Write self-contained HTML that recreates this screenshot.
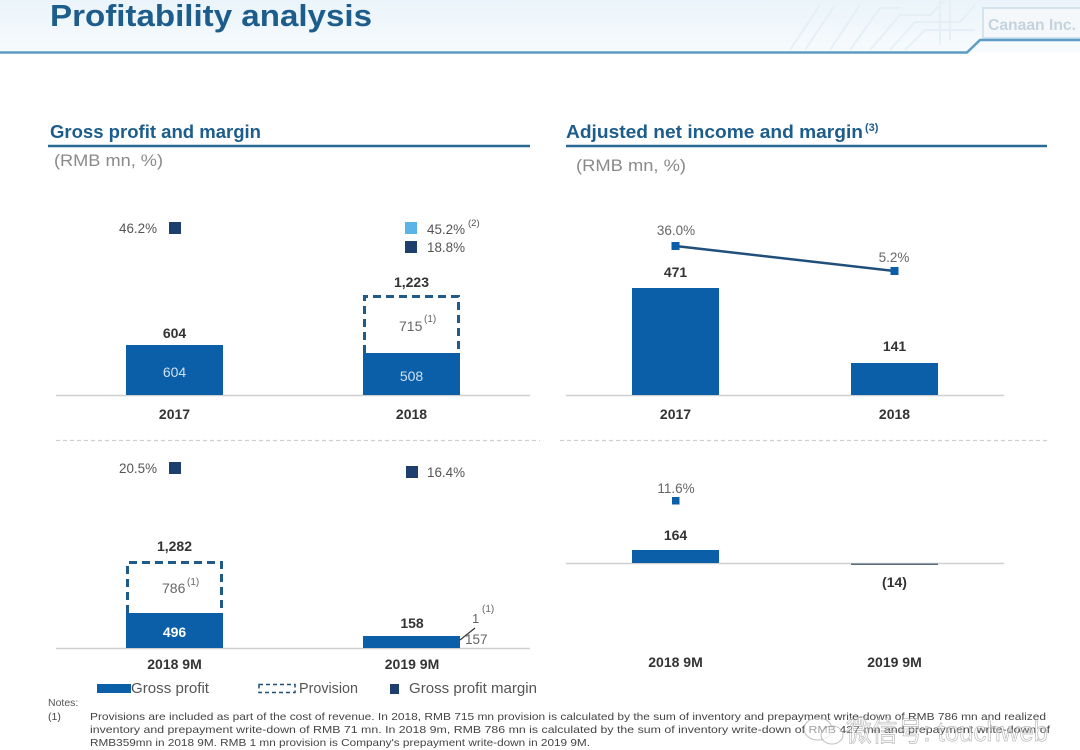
<!DOCTYPE html>
<html>
<head>
<meta charset="utf-8">
<style>
  html,body{margin:0;padding:0;background:#fff;}
  svg{display:block;}
  text{font-family:"Liberation Sans","Noto Sans CJK SC",sans-serif;}
</style>
</head>
<body>
<svg width="1080" height="750" viewBox="0 0 1080 750" xmlns="http://www.w3.org/2000/svg">
  <defs>
    <linearGradient id="hdr" x1="0" y1="0" x2="0" y2="1">
      <stop offset="0" stop-color="#eaf4fa"/>
      <stop offset="1" stop-color="#f7fbfd"/>
    </linearGradient>
  </defs>
  <!-- header -->
  <rect x="0" y="0" width="1080" height="52" fill="url(#hdr)"/>
  <g stroke="#e3eef6" stroke-width="2" fill="none" opacity="0.8">
    <path d="M790 50 L820 5"/><path d="M805 50 L835 5"/><path d="M830 50 L860 5"/>
    <path d="M850 50 L880 8 L900 8"/><path d="M870 50 L900 15 L930 15 L945 0"/>
    <path d="M890 50 L915 22 L960 22 L975 5"/><path d="M905 50 L925 30 L975 30"/>
    <path d="M940 0 L940 45"/><path d="M950 0 L950 40"/>
  </g>
  <rect x="983" y="8" width="100" height="30" fill="#f4f8fb" stroke="#d3e4ef" stroke-width="2"/>
  <text x="988" y="30" font-size="16" font-weight="bold" fill="#c5d3de" textLength="88" lengthAdjust="spacingAndGlyphs">Canaan Inc.</text>
  <path d="M0 52.5 L967 52.5 L980 40 L1080 40" fill="none" stroke="#5d9cc6" stroke-width="2.5"/>
  <text x="50" y="26" font-size="31" font-weight="bold" fill="#1d5d8c" textLength="322" lengthAdjust="spacingAndGlyphs">Profitability analysis</text>

  <!-- section headings -->
  <text x="50" y="138" font-size="18" font-weight="bold" fill="#1d5d8c" textLength="211" lengthAdjust="spacingAndGlyphs">Gross profit and margin</text>
  <line x1="48" y1="146" x2="530" y2="146" stroke="#2a6a94" stroke-width="2.5"/>
  <text x="566" y="138" font-size="18" font-weight="bold" fill="#1d5d8c" textLength="297" lengthAdjust="spacingAndGlyphs">Adjusted net income and margin</text>
  <text x="865" y="131" font-size="11" font-weight="bold" fill="#1d5d8c">(3)</text>
  <line x1="566" y1="146" x2="1047" y2="146" stroke="#2a6a94" stroke-width="2.5"/>

  <text x="54" y="166" font-size="17" fill="#8a8a8a" textLength="109" lengthAdjust="spacingAndGlyphs">(RMB mn, %)</text>
  <text x="576" y="171" font-size="17" fill="#8a8a8a" textLength="110" lengthAdjust="spacingAndGlyphs">(RMB mn, %)</text>

  <!-- ========== Top-left: Gross profit 2017/2018 ========== -->
  <line x1="56" y1="395.5" x2="530" y2="395.5" stroke="#cfcfcf" stroke-width="1.5"/>
  <rect x="126" y="345" width="97" height="50" fill="#0b5ea8"/>
  <rect x="363" y="353" width="97" height="42" fill="#0b5ea8"/>
  <path d="M364.5 353 L364.5 296.5 L458.5 296.5 L458.5 353" fill="none" stroke="#1f5a88" stroke-width="3" stroke-dasharray="8,5"/>
  <text x="174.5" y="338" font-size="14" font-weight="bold" fill="#333" text-anchor="middle">604</text>
  <text x="174.5" y="377" font-size="14" fill="#cfe2f3" text-anchor="middle">604</text>
  <text x="411.5" y="287" font-size="14" font-weight="bold" fill="#333" text-anchor="middle">1,223</text>
  <text x="399" y="331" font-size="14" fill="#666">715</text>
  <text x="424" y="322" font-size="10" fill="#666">(1)</text>
  <text x="411.5" y="381" font-size="14" fill="#cfe2f3" text-anchor="middle">508</text>
  <text x="174.5" y="419" font-size="14" font-weight="bold" fill="#333" text-anchor="middle">2017</text>
  <text x="411.5" y="419" font-size="14" font-weight="bold" fill="#333" text-anchor="middle">2018</text>
  <!-- margins -->
  <text x="119" y="233" font-size="13.5" fill="#555" textLength="38" lengthAdjust="spacingAndGlyphs">46.2%</text>
  <rect x="169" y="222" width="12" height="12" fill="#1e3e6e"/>
  <rect x="405" y="222" width="12" height="12" fill="#5ab4e6"/>
  <text x="427" y="234" font-size="13.5" fill="#555" textLength="38" lengthAdjust="spacingAndGlyphs">45.2%</text>
  <text x="468" y="226" font-size="9.5" fill="#555">(2)</text>
  <rect x="405" y="241" width="12" height="12" fill="#1e3e6e"/>
  <text x="427" y="252" font-size="13.5" fill="#555" textLength="38" lengthAdjust="spacingAndGlyphs">18.8%</text>

  <!-- separators -->
  <line x1="56" y1="440.5" x2="540" y2="440.5" stroke="#cfcfcf" stroke-width="1.2" stroke-dasharray="4,3"/>
  <line x1="560" y1="440.5" x2="1050" y2="440.5" stroke="#cfcfcf" stroke-width="1.2" stroke-dasharray="4,3"/>

  <!-- ========== Bottom-left: Gross profit 9M ========== -->
  <line x1="56" y1="648.5" x2="530" y2="648.5" stroke="#cfcfcf" stroke-width="1.5"/>
  <rect x="126" y="613" width="97" height="35" fill="#0b5ea8"/>
  <path d="M127.5 613 L127.5 562.5 L221.5 562.5 L221.5 613" fill="none" stroke="#1f5a88" stroke-width="3" stroke-dasharray="8,5"/>
  <text x="174.5" y="551" font-size="14" font-weight="bold" fill="#333" text-anchor="middle">1,282</text>
  <text x="162" y="593" font-size="14" fill="#666">786</text>
  <text x="187" y="585" font-size="10" fill="#666">(1)</text>
  <text x="174.5" y="637" font-size="14" font-weight="bold" fill="#fff" text-anchor="middle">496</text>
  <rect x="363" y="636" width="97" height="12" fill="#0b5ea8"/>
  <text x="412" y="628" font-size="14" font-weight="bold" fill="#333" text-anchor="middle">158</text>
  <line x1="460" y1="640" x2="475" y2="628" stroke="#333" stroke-width="1.2"/>
  <text x="472" y="623" font-size="13" fill="#666">1</text>
  <text x="482" y="612" font-size="10" fill="#666">(1)</text>
  <text x="465" y="644" font-size="13.5" fill="#666">157</text>
  <text x="119" y="473" font-size="13.5" fill="#555" textLength="38" lengthAdjust="spacingAndGlyphs">20.5%</text>
  <rect x="169" y="462" width="12" height="12" fill="#1e3e6e"/>
  <rect x="406" y="466" width="12" height="12" fill="#1e3e6e"/>
  <text x="427" y="477" font-size="13.5" fill="#555" textLength="38" lengthAdjust="spacingAndGlyphs">16.4%</text>
  <text x="174.5" y="669" font-size="14" font-weight="bold" fill="#333" text-anchor="middle">2018 9M</text>
  <text x="412" y="669" font-size="14" font-weight="bold" fill="#333" text-anchor="middle">2019 9M</text>

  <!-- ========== Top-right: Adjusted NI ========== -->
  <line x1="566" y1="395.5" x2="1004" y2="395.5" stroke="#cfcfcf" stroke-width="1.5"/>
  <rect x="632" y="288" width="87" height="107" fill="#0b5ea8"/>
  <rect x="851" y="363" width="87" height="32" fill="#0b5ea8"/>
  <text x="675.5" y="277" font-size="14" font-weight="bold" fill="#333" text-anchor="middle">471</text>
  <text x="894.5" y="351" font-size="14" font-weight="bold" fill="#333" text-anchor="middle">141</text>
  <line x1="675.5" y1="246" x2="894.5" y2="271" stroke="#1f4f7a" stroke-width="2.5"/>
  <rect x="671.5" y="242" width="8" height="8" fill="#0b5ea8"/>
  <rect x="890.5" y="267" width="8" height="8" fill="#0b5ea8"/>
  <text x="676" y="235" font-size="13.5" fill="#666" text-anchor="middle">36.0%</text>
  <text x="894" y="262" font-size="13.5" fill="#666" text-anchor="middle">5.2%</text>
  <text x="675.5" y="419" font-size="14" font-weight="bold" fill="#333" text-anchor="middle">2017</text>
  <text x="894.5" y="419" font-size="14" font-weight="bold" fill="#333" text-anchor="middle">2018</text>

  <!-- ========== Bottom-right: Adjusted NI 9M ========== -->
  <line x1="566" y1="563.5" x2="1004" y2="563.5" stroke="#cfcfcf" stroke-width="1.5"/>
  <rect x="632" y="550" width="87" height="13" fill="#0b5ea8"/>
  <rect x="851" y="563.5" width="87" height="1.5" fill="#5a6e80"/>
  <text x="675.5" y="540" font-size="14" font-weight="bold" fill="#333" text-anchor="middle">164</text>
  <rect x="672" y="497" width="7.5" height="7.5" fill="#0b5ea8"/>
  <text x="676" y="493" font-size="13.5" fill="#666" text-anchor="middle">11.6%</text>
  <text x="894.5" y="587" font-size="14" font-weight="bold" fill="#333" text-anchor="middle">(14)</text>
  <text x="675.5" y="667" font-size="14" font-weight="bold" fill="#333" text-anchor="middle">2018 9M</text>
  <text x="894.5" y="667" font-size="14" font-weight="bold" fill="#333" text-anchor="middle">2019 9M</text>

  <!-- legend -->
  <rect x="97" y="684" width="34" height="9" fill="#0b5ea8"/>
  <text x="131" y="693" font-size="15" fill="#555" textLength="78" lengthAdjust="spacingAndGlyphs">Gross profit</text>
  <rect x="259" y="684.5" width="36" height="8" fill="none" stroke="#1f4f7a" stroke-width="1.5" stroke-dasharray="4,3"/>
  <text x="299" y="693" font-size="15" fill="#555" textLength="59" lengthAdjust="spacingAndGlyphs">Provision</text>
  <rect x="390" y="684" width="9" height="10" fill="#1e3e6e"/>
  <text x="409" y="693" font-size="15" fill="#555" textLength="128" lengthAdjust="spacingAndGlyphs">Gross profit margin</text>

  <!-- notes -->
  <text x="48" y="706" font-size="10.5" fill="#555">Notes:</text>
  <text x="48" y="720" font-size="10.5" fill="#444">(1)</text>
  <text x="90" y="720" font-size="10.5" fill="#444" textLength="956" lengthAdjust="spacingAndGlyphs">Provisions are included as part of the cost of revenue. In 2018, RMB 715 mn provision is calculated by the sum of inventory and prepayment write-down of RMB 786 mn and realized</text>
  <text x="90" y="733" font-size="10.5" fill="#444" textLength="960" lengthAdjust="spacingAndGlyphs">inventory and prepayment write-down of RMB 71 mn. In 2018 9m, RMB 786 mn is calculated by the sum of inventory write-down of RMB 427 mn and prepayment write-down of</text>
  <text x="90" y="746" font-size="10.5" fill="#444" textLength="500" lengthAdjust="spacingAndGlyphs">RMB359mn in 2018 9M. RMB 1 mn provision is Company's prepayment write-down in 2019 9M.</text>

  <!-- watermark -->
  <g opacity="0.7">
    <ellipse cx="818" cy="729" rx="14" ry="11" fill="rgba(255,255,255,0.7)" stroke="#aaa" stroke-width="1.1"/>
    <ellipse cx="832" cy="735" rx="11" ry="9" fill="rgba(255,255,255,0.7)" stroke="#aaa" stroke-width="1.1"/>
    <text x="846" y="741" font-size="28" fill="rgba(255,255,255,0.6)" stroke="#9a9a9a" stroke-width="0.7" textLength="202" lengthAdjust="spacingAndGlyphs">微信号: touchweb</text>
  </g>
</svg>
</body>
</html>
